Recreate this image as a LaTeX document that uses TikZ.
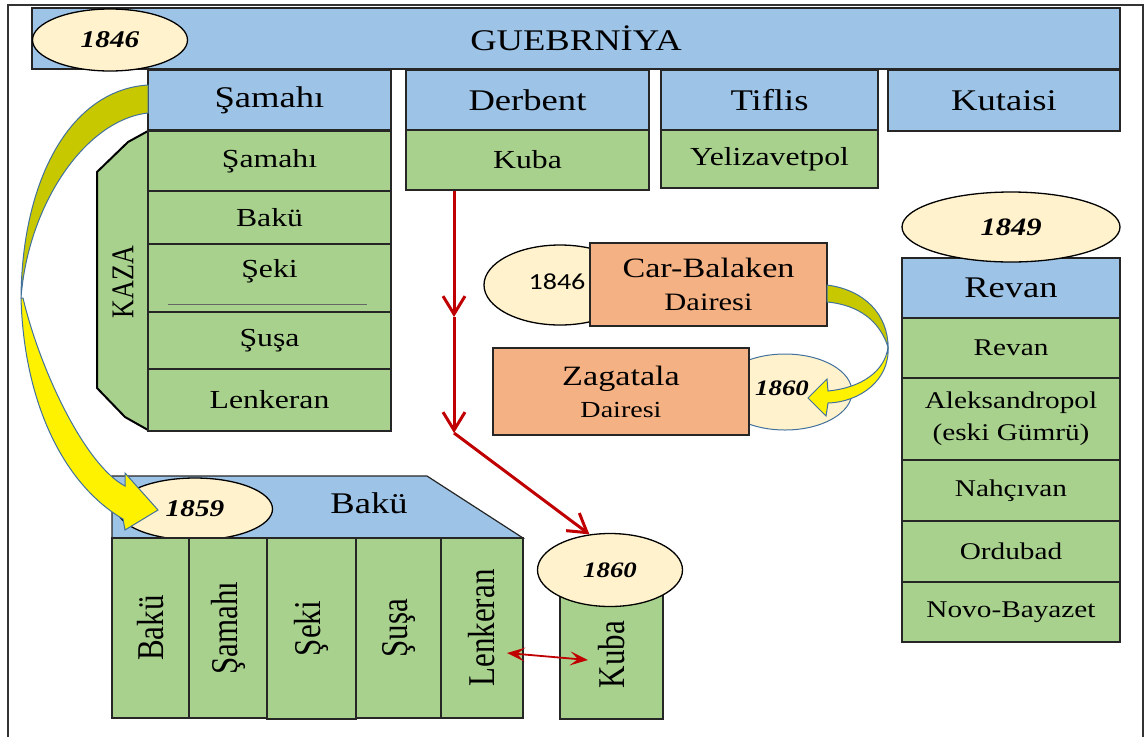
\documentclass[tikz,border=0pt]{standalone}
\usepackage{fontspec}
\setmainfont{Liberation Serif}[FakeStretch=1.22]
\newfontfamily\plainserif{Liberation Serif}
\newfontfamily\yearsans{Carlito}[FakeStretch=1.22]
\usepackage{graphicx}
\usepackage{xcolor}
\usepackage{tikz}
\usetikzlibrary{arrows.meta,shapes.geometric}

\definecolor{hdrblue}{HTML}{9DC3E6}
\definecolor{cellgreen}{HTML}{A9D18E}
\definecolor{yearcream}{HTML}{FFF2CC}
\definecolor{daireorange}{HTML}{F4B183}
\definecolor{arrowred}{HTML}{C00000}
\definecolor{arrowolive}{HTML}{C8C800}
\definecolor{arrowedge}{HTML}{41719C}

\newcommand{\fsz}[1]{\fontsize{#1}{#1}\selectfont}
\newcommand{\vtext}[2][31]{\scalebox{1}[1.22]{\plainserif\fsz{#1}#2}}

\begin{document}
\begin{tikzpicture}[x=1pt,y=-1pt,
  box/.style={draw=black!85,line width=1.2pt,inner sep=0pt,align=center},
  hdr/.style={box,fill=hdrblue,font=\fsz{30}},
  greencell/.style={box,fill=cellgreen,font=\fsz{26}},
  revancell/.style={box,fill=cellgreen,font=\fsz{24},minimum width=218pt},
  daire/.style={box,fill=daireorange,font=\fsz{28}},
  yearoval/.style={ellipse,draw=black,line width=1.3pt,fill=yearcream,inner sep=0pt,
    font=\bfseries\itshape\fsz{24}},
  redline/.style={arrowred,line width=3pt,-{Straight Barb[length=18pt,width=22pt]}},
  fatarrow/.style={draw=arrowedge,line width=1pt}]
\useasboundingbox (0,0) rectangle (1147,737);
\draw[line width=1.5pt,black!80] (8,737) -- (8,5) -- (1143,5) -- (1143,737);

% guberniya bar and the four uezd headers
\node[hdr,minimum width=1088pt,minimum height=61pt] (guebr) at (576,38.5) {GUEBRN\.IYA};
\node[yearoval,minimum width=155pt,minimum height=62pt] (y46) at (110,40) {1846};
\node[hdr,minimum width=243pt,minimum height=60pt] (samH) at (269.5,100) {Şamahı};
\node[hdr,minimum width=243pt,minimum height=60pt] (derH) at (527.5,100) {Derbent};
\node[hdr,minimum width=217pt,minimum height=60pt] (tifH) at (769.5,100) {Tiflis};
\node[hdr,minimum width=232pt,minimum height=61pt] (kutH) at (1004,100.5) {Kutaisi};

% kaza column
\draw[fill=cellgreen,line width=2pt] (148,131) -- (128,142) -- (97,172) -- (97,388)
  -- (125,417) -- (148,430) -- cycle;
\node[rotate=90] (kaza) at (123,282) {\vtext[26]{KAZA}};
\node[greencell,minimum width=243pt,minimum height=60pt] (samK) at (269.5,161) {Şamahı};
\node[greencell,minimum width=243pt,minimum height=53pt] (bakK) at (269.5,217.5) {Bakü};
\node[greencell,minimum width=243pt,minimum height=68pt] (sekK) at (269.5,278) {};
\node[font=\fsz{26}] at ([yshift=7pt]sekK.center) {Şeki};
\draw[black!60,line width=0.6pt] (168,304) -- (367,304);
\node[greencell,minimum width=243pt,minimum height=57pt] (susK) at (269.5,340.5) {Şuşa};
\node[greencell,minimum width=243pt,minimum height=62pt] (lenK) at (269.5,400) {Lenkeran};
\node[greencell,minimum width=243pt,minimum height=60pt] (kubK) at (527.5,160) {Kuba};
\node[greencell,minimum width=217pt,minimum height=58pt] (yelK) at (769.5,159) {Yelizavetpol};

% daireler
\node[ellipse,draw=black,line width=1.3pt,fill=yearcream,minimum width=152pt,minimum height=80pt]
  (y46b) at (560,285) {};
\node[font=\yearsans\fsz{23}] at (557,282) {1846};
\node[daire,minimum width=237pt,minimum height=83pt] (carB) at (708.5,284.5)
  {Car-Balaken\\[5pt]{\fsz{25}Dairesi}};
\node[ellipse,draw=arrowedge,line width=1pt,fill=yearcream,minimum width=134pt,minimum height=76pt]
  (y60z) at (785,392) {};
\node[daire,minimum width=256pt,minimum height=87pt] (zag) at (621,391.5)
  {Zagatala\\[4pt]{\fsz{23}Dairesi}};
\node[font=\bfseries\itshape\fsz{22}] at (782,388) {1860};

% revan
\node[hdr,minimum width=218pt,minimum height=60pt] (revH) at (1011,288) {Revan};
\node[yearoval,minimum width=218pt,minimum height=70pt,font=\bfseries\itshape\fsz{25}] (y49) at (1011,227) {1849};
\node[revancell,minimum height=60pt] (rev1) at (1011,348) {Revan};
\node[revancell,minimum height=82pt] (rev2) at (1011,419) {Aleksandropol\\[8pt](eski Gümrü)};
\node[revancell,minimum height=61pt] (rev3) at (1011,490.5) {Nahçıvan};
\node[revancell,minimum height=61pt] (rev4) at (1011,551.5) {Ordubad};
\node[revancell,minimum height=60pt] (rev5) at (1011,612) {Novo-Bayazet};

% baku guberniyasi 1859
\draw[fill=hdrblue,draw=black!85,line width=1.2pt] (112,476) -- (427,476) -- (523,538) -- (112,538) -- cycle;
\node[font=\fsz{30}] (bakH) at (369,503) {Bakü};
\node[yearoval,minimum width=155pt,minimum height=62pt] (y59) at (195,509) {1859};
\node[greencell,rotate=90,minimum width=180pt,minimum height=77pt] (bak1) at (150.5,628) {\vtext{Bakü}};
\node[greencell,rotate=90,minimum width=180pt,minimum height=78pt] (bak2) at (228,628) {\vtext{Şamahı}};
\node[greencell,rotate=90,minimum width=181pt,minimum height=89pt] (bak3) at (311.5,628.5) {\vtext{Şeki}};
\node[greencell,rotate=90,minimum width=180pt,minimum height=85pt] (bak4) at (398.5,628) {\vtext{Şuşa}};
\node[greencell,rotate=90,minimum width=180pt,minimum height=82pt] (bak5) at (482,628) {\vtext{Lenkeran}};
\node[greencell,rotate=90,minimum width=129pt,minimum height=103pt] (kubB) at (611.5,654.5) {\vtext{Kuba}};
\node[yearoval,minimum width=145pt,minimum height=73pt,font=\bfseries\itshape\fsz{22}] (y60k) at (610,570) {1860};

% red connectors
\coordinate (redtop) at (kubK.south -| 454,0);
\coordinate (redmid) at (454,317);
\coordinate (redbend) at (454,433);
\draw[redline] (redtop) -- (redmid);
\draw[redline] (redmid) -- (redbend);
\draw[redline] (redbend) -- (y60k.120);
\coordinate (lenR) at (507,653);
\coordinate (kubL) at (588,660);
\draw[arrowred,line width=1.8pt,{Stealth[length=18pt,width=14pt,inset=8pt]}-{Stealth[length=18pt,width=14pt,inset=8pt]}] (lenR) -- (kubL);

% curved yellow arrows
\filldraw[fatarrow,fill=arrowolive] (148,85) .. controls (70,90) and (22,180) .. (21,298)
  .. controls (28,205) and (85,120) .. (148,113) -- cycle;
\filldraw[fatarrow,fill=yellow] (21,298) .. controls (24,405) and (65,485) .. (123,519)
  -- (125,530) -- (158,510) -- (125,473) -- (125,486)
  .. controls (85,465) and (40,370) .. (23,298) -- cycle;
\filldraw[fatarrow,fill=arrowolive] (827,285) .. controls (865,290) and (888,315) .. (888,347)
  .. controls (880,322) and (860,305) .. (827,302) -- cycle;
\filldraw[fatarrow,fill=yellow] (888,347) .. controls (890,380) and (860,402) .. (828,403)
  -- (826,416) -- (808,398) -- (827,379) -- (828,391)
  .. controls (860,388) and (885,372) .. (888,347) -- cycle;
\end{tikzpicture}
\end{document}
